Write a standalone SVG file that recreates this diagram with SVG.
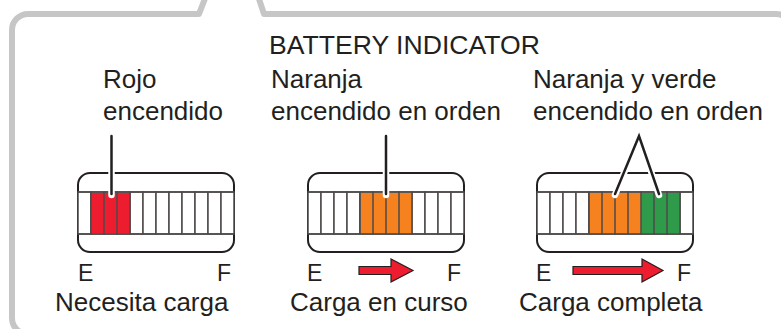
<svg xmlns="http://www.w3.org/2000/svg" width="781" height="329" viewBox="0 0 781 329">
<style>
text{font-family:"Liberation Sans",Arial,sans-serif;fill:#231f20}
.t{font-size:26px}
.title{font-size:26.6px}
.ef{font-size:23px}
.frame{fill:none;stroke:#c6c6c6;stroke-width:6;stroke-linejoin:round}
.case{fill:#fff;stroke:#231f20;stroke-width:2}
.seg{fill:#fff;stroke:#4d4a4a;stroke-width:1.5}
.red{fill:#ed1c2e}
.org{fill:#f5821f}
.grn{fill:#2f9a4a}
.halo{fill:none;stroke:#fff;stroke-width:6.5;stroke-linecap:round;stroke-linejoin:round}
.lead{fill:none;stroke:#231f20;stroke-width:2.5;stroke-linecap:round;stroke-linejoin:miter}
.arrow{fill:#ed1c2e;stroke:#231f20;stroke-width:1.2;stroke-linejoin:miter}
.div{stroke:#4d4a4a;stroke-width:1.5}
</style>
<defs>
<g id="strip">
<rect class="case" x="0" y="0" width="156" height="79" rx="12"/>
<rect class="seg" x="0" y="19" width="13" height="42"/>
<rect class="seg" x="13" y="19" width="13" height="42"/>
<rect class="seg" x="26" y="19" width="13" height="42"/>
<rect class="seg" x="39" y="19" width="13" height="42"/>
<rect class="seg" x="52" y="19" width="13" height="42"/>
<rect class="seg" x="65" y="19" width="13" height="42"/>
<rect class="seg" x="78" y="19" width="13" height="42"/>
<rect class="seg" x="91" y="19" width="13" height="42"/>
<rect class="seg" x="104" y="19" width="13" height="42"/>
<rect class="seg" x="117" y="19" width="13" height="42"/>
<rect class="seg" x="130" y="19" width="13" height="42"/>
<rect class="seg" x="143" y="19" width="13" height="42"/>
</g>
</defs>
<g id="frame">
<path class="frame" d="M206,-4 L199,14 H28 A16,16 0 0 0 12,30 V318 A16,16 0 0 0 28,334 H770"/>
<path class="frame" d="M258,-4 L264,14 H776 A16,16 0 0 1 792,30 V340"/>
</g>
<g id="title"><text class="title" x="269" y="54">BATTERY INDICATOR</text></g>

<g id="battery-empty">
<use href="#strip" x="78" y="173"/>
<rect class="red" x="91.75" y="192.75" width="38.5" height="40.5"/>
<path class="div" d="M91,192 V234 M104,192 V234 M117,192 V234 M130,192 V234 M78,192 H234 M78,234 H234"/>
<text class="t" x="103" y="88">Rojo</text>
<text class="t" x="103" y="120">encendido</text>
<text class="ef" x="78" y="281">E</text>
<text class="ef" x="217" y="281">F</text>
<text class="t" x="55" y="311">Necesita carga</text>
</g>

<g id="battery-charging">
<use href="#strip" x="308" y="173"/>
<rect class="org" x="360.75" y="192.75" width="51.5" height="40.5"/>
<path class="div" d="M360,192 V234 M373,192 V234 M386,192 V234 M399,192 V234 M412,192 V234 M308,192 H464 M308,234 H464"/>
<text class="t" x="271" y="88">Naranja</text>
<text class="t" x="271" y="120">encendido en orden</text>
<text class="ef" x="307" y="281">E</text>
<text class="ef" x="447" y="281">F</text>
<text class="t" x="290" y="311">Carga en curso</text>
</g>

<g id="battery-full">
<use href="#strip" x="537" y="173"/>
<rect class="org" x="589.75" y="192.75" width="51.5" height="40.5"/>
<rect class="grn" x="641.75" y="192.75" width="38.5" height="40.5"/>
<path class="div" d="M589,192 V234 M602,192 V234 M615,192 V234 M628,192 V234 M641,192 V234 M654,192 V234 M667,192 V234 M680,192 V234 M537,192 H693 M537,234 H693"/>
<text class="t" x="533" y="88">Naranja y verde</text>
<text class="t" x="533" y="120">encendido en orden</text>
<text class="ef" x="536" y="281">E</text>
<text class="ef" x="677" y="281">F</text>
<text class="t" x="519" y="311">Carga completa</text>
</g>

<g id="connectors">
<path class="halo" d="M111.5,136 V195"/>
<path class="lead" d="M111.5,136 V194"/>
<path class="halo" d="M386,136 V195"/>
<path class="lead" d="M386,136 V194"/>
<path class="halo" d="M615,195 L639,136 L659,195"/>
<path class="lead" d="M615,194 L639,136 L659,194"/>
<path class="arrow" d="M359,266.5 H391 V259 L413,270.5 L391,282 V274.5 H359 Z"/>
<path class="arrow" d="M573,266.5 H642 V259 L663,270.5 L642,282 V274.5 H573 Z"/>
</g>
</svg>
